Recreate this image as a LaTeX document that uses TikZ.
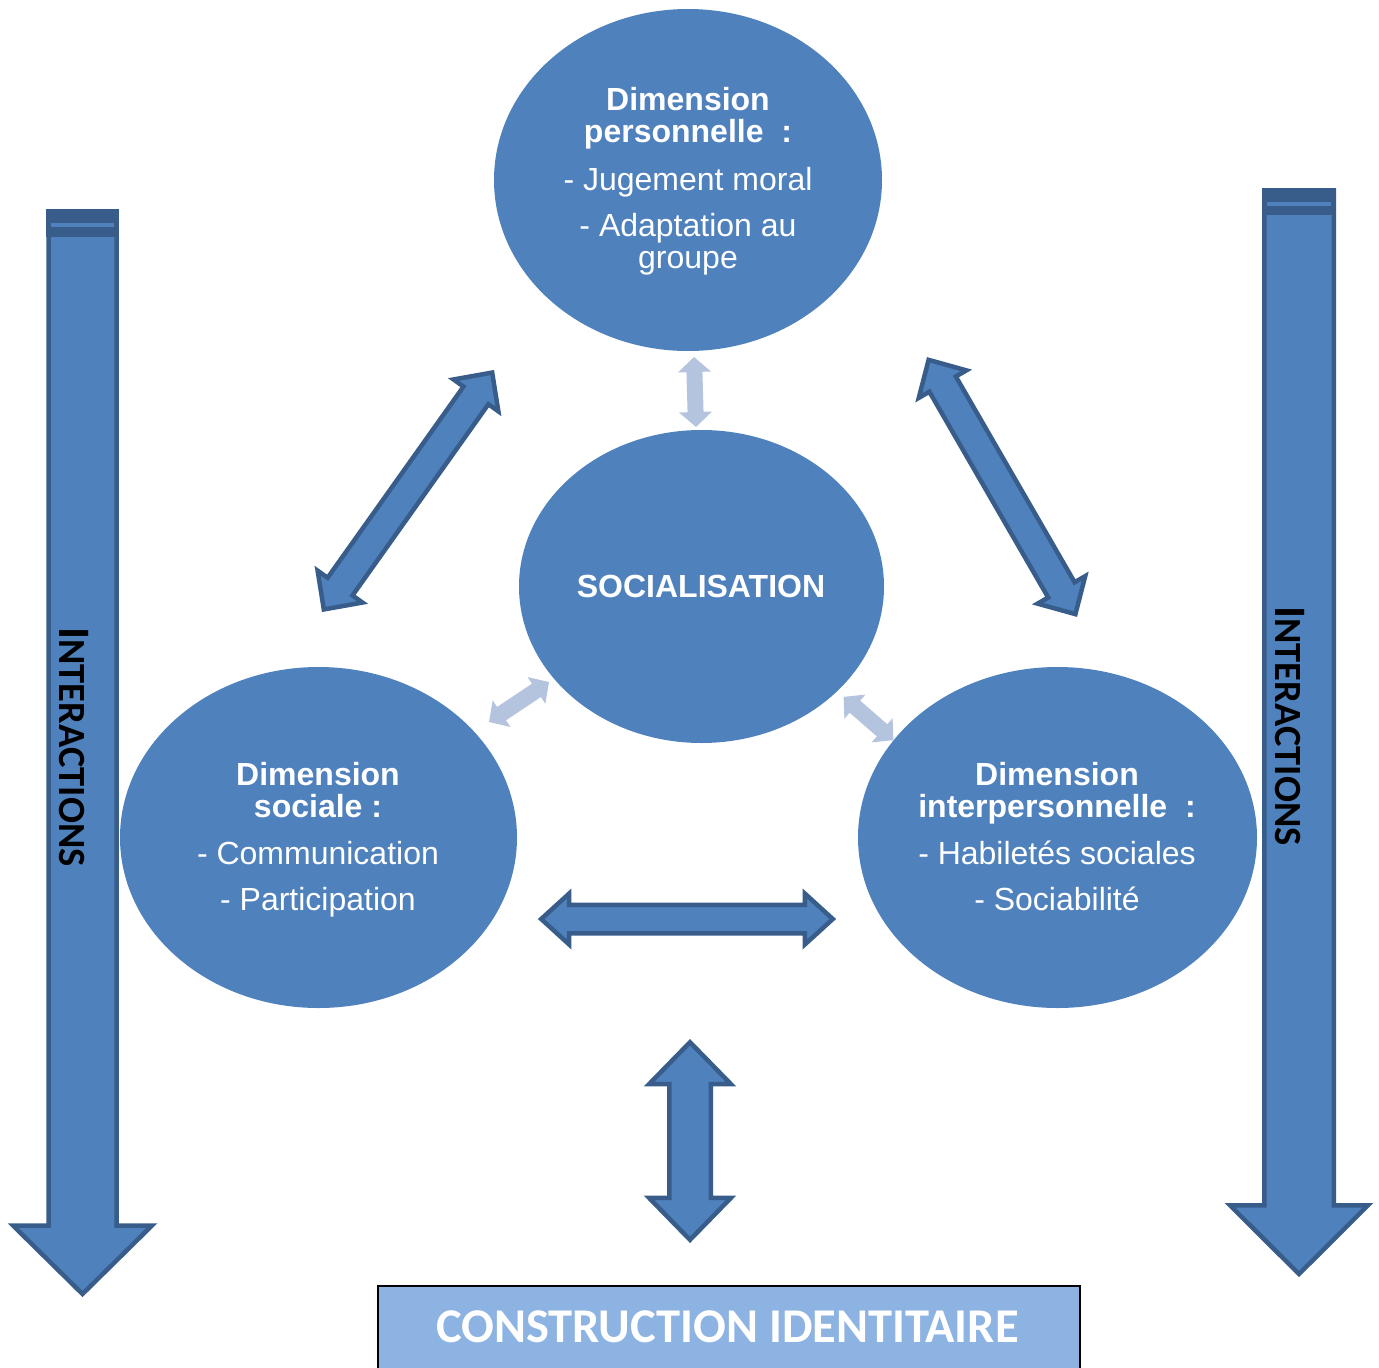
\documentclass[tikz,border=0pt]{standalone}
\usepackage{fontspec}
\setmainfont{Liberation Sans}
\newfontfamily\calib{Carlito}
\usetikzlibrary{shapes.geometric}
\definecolor{ellblue}{HTML}{4F81BD}
\definecolor{arrborder}{HTML}{385D8A}
\definecolor{lightarr}{HTML}{B4C3DE}
\definecolor{boxblue}{HTML}{8DB3E2}
% #1 style, #2 centre, #3 angle, #4 half length, #5 shaft half width, #6 head half width, #7 head length
\newcommand{\dblarr}[7]{%
  \begin{scope}[shift={#2}, rotate=#3]
    \draw[#1] ({-#4},0) -- ({-#4+#7},{#6}) -- ({-#4+#7},{#5}) -- ({#4-#7},{#5})
      -- ({#4-#7},{#6}) -- ({#4},0) -- ({#4-#7},{-#6}) -- ({#4-#7},{-#5})
      -- ({-#4+#7},{-#5}) -- ({-#4+#7},{-#6}) -- cycle;
  \end{scope}}
\tikzset{
  ell/.style={ellipse, fill=ellblue, draw=none, inner sep=0pt},
  ltxt/.style={text=white, align=center, font=\fontsize{32}{32}\selectfont, inner sep=0pt},
  darr/.style={fill=ellblue, draw=arrborder, line width=4.5pt, line join=miter},
  larr/.style={fill=lightarr, draw=none},
  vtxt/.style={rotate=-90, text=black, inner sep=0pt},
  boxst/.style={fill=boxblue, draw=black, line width=1.5pt, inner sep=0pt},
}
\newcommand{\interlabel}{\calib\bfseries{\fontsize{45}{45}\selectfont I}{\fontsize{38.5}{38.5}\selectfont NTERACTIONS}}
\begin{document}
\begin{tikzpicture}[x=1pt, y=-1pt]
\useasboundingbox (0,0) rectangle (1379,1368);

% big down arrows
\draw[darr] (48.5,211.5) -- (116.5,211.5) -- (116.5,1225.5) -- (152,1225.5) -- (82.5,1294) -- (13,1225.5) -- (48.5,1225.5) -- cycle;
\fill[arrborder] (46.25,209.25) rectangle (118.75,237);
\fill[ellblue] (51,223) rectangle (114,226.5);
\node[vtxt] (intL) at (73.5,747) {\interlabel};

\draw[darr] (1264.25,190.25) -- (1333.75,190.25) -- (1333.75,1205.25) -- (1368,1205.25) -- (1299,1274) -- (1230,1205.25) -- (1264.25,1205.25) -- cycle;
\fill[arrborder] (1262,188) rectangle (1336,215);
\fill[ellblue] (1267,202) rectangle (1331,205.5);
\node[vtxt] (intR) at (1290,726) {\interlabel};

% light small arrows
\dblarr{larr}{(695,392)}{91.6}{35}{8}{16.5}{15}
\dblarr{larr}{(519,702)}{33.7}{36}{8}{16}{15}
\dblarr{larr}{(868.5,718.5)}{-41}{33}{8}{16}{15}

% ellipses
\node[ell, minimum width=388pt, minimum height=342pt] (pers) at (688,180) {};
\node[ell, minimum width=365pt, minimum height=313pt] (soc) at (701.5,586.5) {};
\node[ell, minimum width=397pt, minimum height=341pt] (sociale) at (318.5,837.5) {};
\node[ell, minimum width=399pt, minimum height=341pt] (inter) at (1057.5,837.5) {};

\node[ltxt] (perstxt) at (688,181) {\textbf{Dimension}\\ \textbf{personnelle\ \ :}\\[16pt] - Jugement moral\\[14pt] - Adaptation au\\ groupe};
\node[ltxt] (soctxt) at (701,586) {\textbf{SOCIALISATION}};
\node[ltxt] (socialetxt) at (318,840) {\textbf{Dimension}\\ \textbf{sociale :}\\[15pt] - Communication\\[14pt] - Participation};
\node[ltxt] (intertxt) at (1057,836.5) {\textbf{Dimension}\\ \textbf{interpersonnelle\ \ :}\\[15pt] - Habiletés sociales\\[14pt] - Sociabilité};

% dark double arrows
\dblarr{darr}{(408,491)}{54.6}{145.3}{15.25}{27.5}{28}
\dblarr{darr}{(1002,487)}{-60}{146.8}{15.25}{27.5}{28}
\dblarr{darr}{(687,919)}{0}{145.8}{14.25}{25.5}{28}
\dblarr{darr}{(690,1141)}{90}{98.8}{20.75}{41}{42}

% bottom box
\node[boxst, anchor=north west, minimum width=702pt, minimum height=100pt] (box) at (377,1285) {};
\node[text=white, inner sep=0pt, font=\calib\bfseries\fontsize{48.5}{48.5}\selectfont] (boxtxt) at (727.5,1327) {CONSTRUCTION IDENTITAIRE};
\end{tikzpicture}
\end{document}
